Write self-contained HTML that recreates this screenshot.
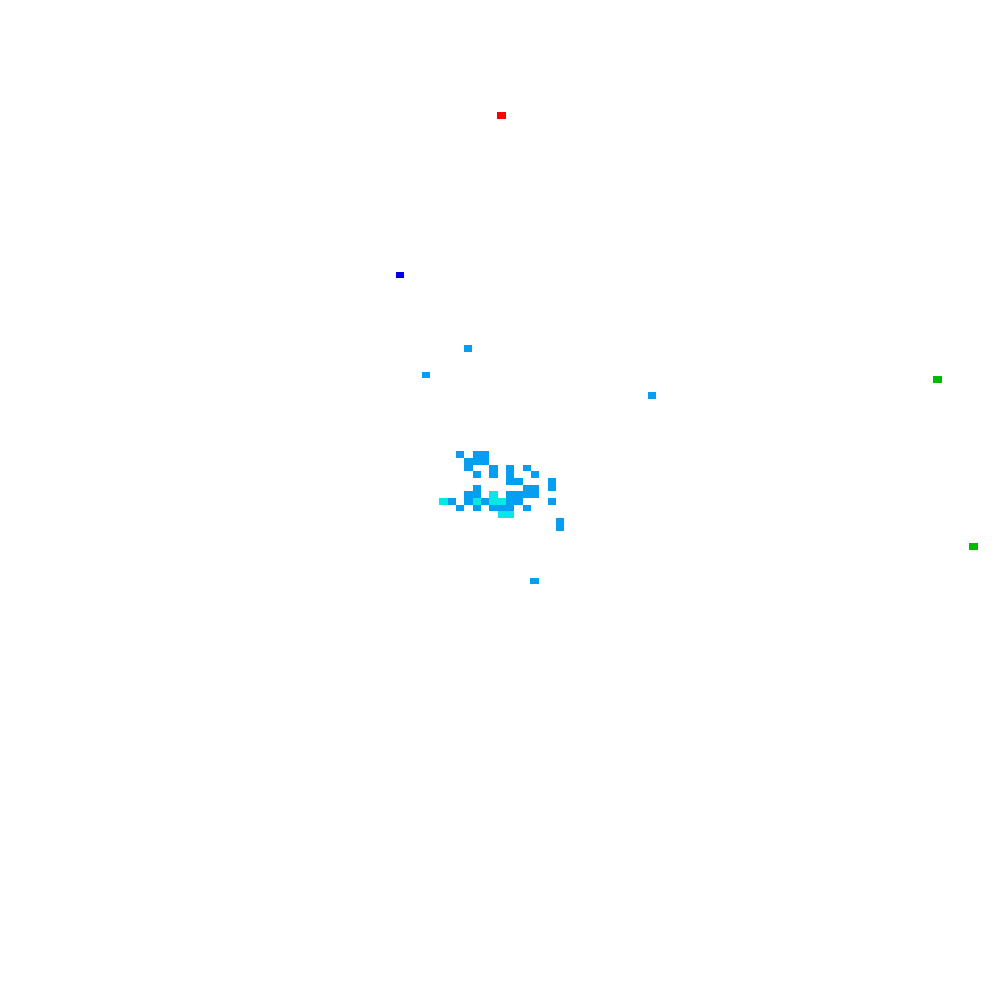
<!DOCTYPE html>
<html><head><style>
body{margin:0;width:1000px;height:1000px;background:#fff;position:relative;overflow:hidden}
div{position:absolute}
.b{background:#069ef2}.c{background:#0ae6e6}
</style></head><body>
<div style="left:497px;top:112px;width:9px;height:7px;background:#f00"></div>
<div style="left:396px;top:272px;width:8px;height:6px;background:#0000dd"></div>
<div class="b" style="left:464px;top:345px;width:8px;height:7px"></div>
<div class="b" style="left:422px;top:372px;width:8px;height:6px"></div>
<div class="b" style="left:648px;top:392px;width:8px;height:7px"></div>
<div style="left:933px;top:376px;width:9px;height:7px;background:#00bb00"></div>
<div style="left:969px;top:543px;width:9px;height:7px;background:#00bb00"></div>
<div class="b" style="left:530px;top:578px;width:9px;height:6px"></div>
<div id="g"></div>
<script>
var X=function(c){return 439.3+8.333*c};
var R=[451,458,465,471,478,485,491,498,505,511,518,524,531];
var cells=[
[0,2],[0,4],[0,5],
[1,3],[1,4],[1,5],
[2,3],[2,6],[2,8],[2,10],
[3,4],[3,6],[3,8],[3,11],
[4,8],[4,9],[4,13],
[5,4],[5,10],[5,11],[5,13],
[6,3],[6,4],[6,6,'c'],[6,8],[6,9],[6,10],[6,11],
[7,0,'c'],[7,1],[7,3],[7,4,'c'],[7,5],[7,6,'c'],[7,7,'c'],[7,8],[7,9],[7,13],
[8,2],[8,4],[8,6],[8,7],[8,8],[8,10],
[9,7,'c'],[9,8,'c'],
[10,14],[11,14]];
var h='';
cells.forEach(function(a){var x=X(a[1]),y=R[a[0]];h+='<div class="'+(a[2]||'b')+'" style="left:'+x.toFixed(1)+'px;top:'+y+'px;width:8.4px;height:'+(R[a[0]+1]-y)+'px"></div>';});
document.getElementById('g').outerHTML=h;
</script>
</body></html>
